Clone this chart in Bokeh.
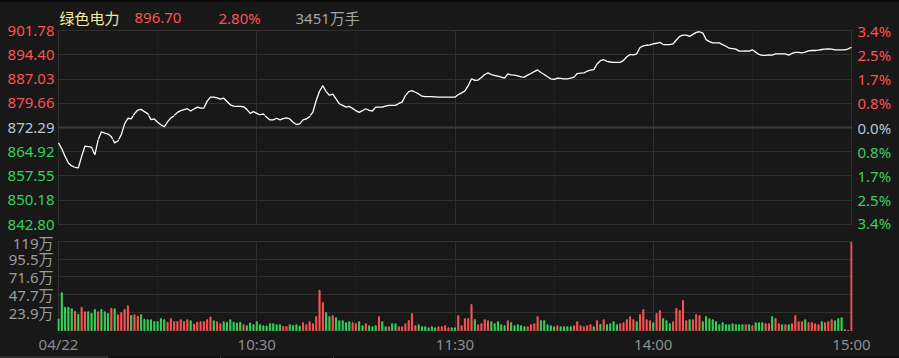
from bokeh.plotting import figure
from bokeh.models import Range1d, FixedTicker, Label, ColumnDataSource, LinearAxis, Spacer
from bokeh.layouts import column
from bokeh.embed import file_html
from bokeh.resources import INLINE

# ---------------- data ----------------
stock_name = "绿色电力"
last_price_text = "896.70"
change_text = "2.80%"
volume_text = "3451万手"

prev_close = 872.29
up_ticks = [901.78, 894.40, 887.03, 879.66]
up_tick_labels = ["901.78", "894.40", "887.03", "879.66"]
up_pct_labels = ["3.4%", "2.5%", "1.7%", "0.8%"]
flat_ticks = [872.29]
flat_tick_labels = ["872.29"]
flat_pct_labels = ["0.0%"]
down_ticks = [864.92, 857.55, 850.18, 842.80]
down_tick_labels = ["864.92", "857.55", "850.18", "842.80"]
down_pct_labels = ["0.8%", "1.7%", "2.5%", "3.4%"]

vol_ticks = [119, 95.5, 71.6, 47.7, 23.9]
vol_tick_labels = ["119万", "95.5万", "71.6万", "47.7万", "23.9万"]

time_ticks = [0, 60, 120, 180, 240]
time_labels = ["04/22", "10:30", "11:30", "14:00", "15:00"]
half_hour_ticks = [30, 90, 150, 210]

prices = [
    867.6, 865.8, 863.5, 861.5, 860.6, 860.2, 860.0, 863.5, 866.6, 866.5,
    866.3, 864.0, 868.5, 871.0, 870.6, 870.3, 869.5, 867.6, 868.2, 870.1,
    873.4, 875.1, 874.9, 876.5, 877.6, 877.8, 877.1, 876.5, 874.7, 874.9,
    873.9, 873.1, 872.5, 874.0, 875.2, 875.9, 876.9, 877.4, 877.7, 878.0,
    877.3, 877.9, 878.5, 878.2, 878.2, 880.3, 881.5, 881.5, 881.3, 880.9,
    881.2, 880.2, 879.2, 878.8, 878.7, 878.7, 878.6, 877.8, 876.6, 877.1,
    876.6, 876.1, 876.4, 875.4, 874.6, 874.6, 875.1, 874.6, 875.0, 875.2,
    874.9, 873.9, 873.2, 873.4, 874.6, 874.9, 875.6, 877.0, 880.5, 883.3,
    885.0, 883.2, 882.1, 882.4, 881.0, 879.5, 879.0, 878.5, 878.7, 878.1,
    877.4, 876.9, 877.4, 878.0, 877.5, 877.3, 878.5, 878.5, 878.5, 878.8,
    879.0, 879.0, 879.0, 879.6, 880.0, 882.0, 883.2, 883.5, 883.0, 882.5,
    881.8, 881.7, 881.7, 881.7, 881.6, 881.5, 881.5, 881.5, 881.5, 881.5,
    881.5, 882.3, 882.8, 883.4, 885.0, 887.1, 886.6, 886.7, 887.5, 888.4,
    888.9, 888.4, 888.1, 887.9, 887.6, 887.3, 888.6, 888.3, 888.2, 888.0,
    887.7, 887.6, 888.2, 888.7, 889.3, 889.8, 889.0, 888.4, 887.7, 887.1,
    886.9, 887.3, 887.2, 887.1, 887.1, 887.3, 887.6, 888.7, 888.8, 888.9,
    889.4, 889.7, 889.9, 891.6, 892.6, 892.9, 892.4, 892.2, 892.1, 892.1,
    892.1, 892.7, 893.8, 894.5, 894.4, 894.7, 896.6, 897.1, 897.3, 897.4,
    897.7, 897.9, 898.2, 897.5, 897.5, 897.5, 897.7, 898.9, 900.0, 900.4,
    900.4, 900.0, 900.6, 901.2, 901.4, 901.0, 899.0, 898.4, 898.0, 898.0,
    898.0, 897.5, 897.0, 896.4, 896.3, 896.1, 895.5, 895.5, 895.6, 895.5,
    895.9, 895.2, 894.5, 894.2, 894.2, 894.4, 894.3, 894.7, 894.7, 894.7,
    894.7, 894.3, 894.8, 895.1, 895.1, 895.0, 895.2, 895.6, 895.7, 895.7,
    895.8, 896.0, 896.1, 896.2, 896.1, 895.9, 895.9, 895.9, 895.9, 896.2,
    896.7,
]

# volume per minute, in 万
volumes = [
    15.3, 50.5, 31, 31, 29, 25.7, 21.6, 31, 25, 25,
    23, 28, 25, 28, 25, 22.5, 29.8, 29, 21, 24,
    28, 33, 20, 21, 19, 21, 15, 14.4, 14.4, 12,
    12, 15.8, 14.4, 11, 15.8, 12, 12, 14.4, 12, 14.4,
    13, 8.6, 11, 11.7, 11.7, 14.4, 18, 13, 11.7, 9,
    11.7, 11, 14.4, 11, 10, 11, 7.7, 6.3, 10, 7.7,
    11.7, 7.7, 6.3, 5.9, 9, 9, 7.7, 7.7, 5.4, 5.4,
    7.7, 6.8, 7.7, 6,
    10.4, 7.7, 11.7, 9, 18.5, 53.7, 37.4, 23.9, 18.5, 19.8,
    17, 13, 13, 10.4, 11.7, 10.4, 9, 11.7, 6.3, 9,
    6.3, 5, 6.3, 18.5, 11.7, 5, 5, 9, 9, 5,
    5, 9, 13.5, 22.5, 6.3, 7.7, 5, 5, 3.6, 5,
    3.6, 5, 5, 6.3, 3.6, 3.6, 3.6, 19.8, 6.3, 15.8,
    15.8, 34.7, 14.4, 7.7, 9, 14.4, 13, 11.7, 9, 11.7,
    7.7, 6.3, 13, 10.4, 6.3, 7.7, 6.3, 5, 5, 7.7,
    9, 18.5, 13, 13, 7.7, 6.3, 5, 6.3, 5, 5,
    5, 5, 6.3, 11.7, 6.3, 5, 6.3, 7.7, 5, 13,
    8,
    14.4, 7.7, 9, 11.7, 7.7, 9, 10.4, 14.4, 18.5, 14.4,
    11.7, 21.2, 28, 14.4, 13, 10.4, 22.5, 26.6, 15.8, 13,
    9, 11.7, 29.3, 26.6, 40, 13, 14.4, 14.4, 21.2, 19.8,
    11.7, 18.5, 15.8, 14.4, 11.7, 7.7, 10.4, 7.7, 7.7, 9,
    7.7, 7.7, 7.7, 7.7, 7.7, 6.3, 10.4, 10.4, 10.4, 9,
    9, 18.5, 15.8, 9, 7.7, 7.7, 7.7, 9, 19.8, 11.7,
    11.7, 14.4, 10.4, 10.4, 9, 7.7, 11.7, 10.4, 11.7, 14.4,
    13, 15.8, 17, 1.3,
    0, 118,
]

# r = up minute (red bar), g = down minute (green bar)
vol_direction = (
    "gggggrgrrg" "ggrgggrgrr" "rrgrrggggg" "gggrrrrrrr" "grrrrrrgrr"
    "ggggggrggg" "ggggggggrr" "gggg"
    "rrrrrrrggr" "gggggrrggr" "gggrggrggr" "rrrrrggggg" "grrrrggrrr"
    "rrgrrrrggg" "ggrgggggrr" "rrgggggrgg" "ggrrrrrrgr"
    "g"
    "rggggrrrrr" "grrrrgrrgg" "grrrrrgrrr" "gggggggggg" "gggrgrgggr"
    "rgrrgrgrrr" "rgrrrrgrrr" "gggr"
    "rr"
)

# ---------------- style / layout constants ----------------
FONT = "Noto Sans, Noto Sans CJK SC"
FS = "15px"
RED = "#ff5252"
GREEN = "#35d458"
MID = "#b8c6d8"
BG = "#181818"
GRID = "#2f2f2f"
AXIS_GRAY = "#9c9c9c"

W = 899
LB, RB = 57, 47                    # borders -> frame 795 px (1 px pad each side)
PLOT_H = 194                       # price box height in px
px_per_price = PLOT_H / (up_ticks[0] - down_ticks[-1])
px_per_min = 793 / 240
pad_x = 1 / px_per_min
x_range = Range1d(time_ticks[0] - pad_x, time_ticks[-1] + pad_x)

n = len(prices)
minutes = list(range(n))
price_src = ColumnDataSource(dict(x=minutes, y=prices))

# vertical split of the price box (so each tick-label group gets its own colour)
A_lo = up_ticks[0] - 85 / px_per_price
A_hi = up_ticks[0] + 28 / px_per_price
B_lo = A_lo - 24 / px_per_price
C_lo = down_ticks[-1] - 1 / px_per_price


def price_part(lo, hi, height, bottom_border, ticks, left_labels, right_labels, color, grid_w=1, grid_c=GRID,
               limit_top=False):
    f = figure(width=W, height=height, x_range=x_range, y_range=Range1d(lo, hi),
               output_backend="svg", toolbar_location=None,
               min_border_left=LB, min_border_right=RB, min_border_top=0, min_border_bottom=bottom_border,
               background_fill_color=BG, border_fill_color=BG, outline_line_color=None)
    f.xaxis.visible = False
    f.xgrid.ticker = FixedTicker(ticks=time_ticks, minor_ticks=half_hour_ticks)
    f.xgrid.grid_line_color = GRID
    f.xgrid.minor_grid_line_color = GRID
    f.xgrid.minor_grid_line_dash = "1 2"
    if limit_top:
        g = f.xgrid[0]
        if "cross_bounds" in g.properties():
            g.cross_bounds = (lo, up_ticks[0])
    f.ygrid.ticker = FixedTicker(ticks=ticks)
    f.ygrid.grid_line_color = grid_c
    f.ygrid.grid_line_width = grid_w

    la = f.yaxis[0]
    la.ticker = FixedTicker(ticks=ticks)
    la.major_label_overrides = dict(zip(ticks, left_labels))
    ra = LinearAxis(ticker=FixedTicker(ticks=ticks), major_label_overrides=dict(zip(ticks, right_labels)))
    f.add_layout(ra, "right")
    for ax, so in ((la, 3), (ra, 5)):
        ax.axis_line_color = None
        ax.major_tick_line_color = None
        ax.minor_tick_line_color = None
        ax.major_tick_out = 0
        ax.major_tick_in = 0
        ax.minor_tick_out = 0
        ax.major_label_standoff = so
        ax.major_label_text_font = FONT
        ax.major_label_text_font_size = FS
        ax.major_label_text_color = color
    f.line("x", "y", source=price_src, line_color="#ffffff", line_width=1.3)
    return f


pa = price_part(A_lo, A_hi, 113, 0, up_ticks, up_tick_labels, up_pct_labels, RED, limit_top=True)
pb = price_part(B_lo, A_lo, 24, 0, flat_ticks, flat_tick_labels, flat_pct_labels, MID, grid_w=2, grid_c="#3b3b3b")
pc = price_part(C_lo, B_lo, 93, 7, down_ticks, down_tick_labels, down_pct_labels, GREEN)

# header (inside the top part's frame, above the price box)
header_y = up_ticks[0] + 12.5 / px_per_price
header = [(stock_name, 1, "#f2eba2"), (last_price_text, 76, RED), (change_text, 160, RED), (volume_text, 237, "#a6a6a6")]
for txt, off, col in header:
    pa.add_layout(Label(x=time_ticks[0], y=header_y, x_offset=off, text=txt, text_align="left",
                        text_baseline="middle", text_color=col, text_font=FONT, text_font_size=FS))

# ---------------- volume panel ----------------
px_per_vol = 90 / vol_ticks[0]
pad_v = 1 / px_per_vol
bar_colors = [RED if d == "r" else GREEN for d in vol_direction]
vsrc = ColumnDataSource(dict(x=minutes, top=volumes, color=bar_colors))

v = figure(width=W, height=124, x_range=x_range, y_range=Range1d(0 - pad_v, vol_ticks[0] + pad_v),
           output_backend="svg", toolbar_location=None,
           min_border_left=LB, min_border_right=RB, min_border_top=8, min_border_bottom=24,
           background_fill_color=BG, border_fill_color=BG, outline_line_color=None)
v.vbar(x="x", top="top", bottom=0, width=0.32, color="color", source=vsrc)

v.xaxis.ticker = FixedTicker(ticks=time_ticks)
v.xaxis.major_label_overrides = dict(zip(time_ticks, time_labels))
v.yaxis.ticker = FixedTicker(ticks=vol_ticks)
v.yaxis.major_label_overrides = dict(zip(vol_ticks, vol_tick_labels))
for ax in (v.xaxis[0], v.yaxis[0]):
    ax.axis_line_color = None
    ax.major_tick_line_color = None
    ax.minor_tick_line_color = None
    ax.major_tick_out = 0
    ax.major_tick_in = 0
    ax.minor_tick_out = 0
    ax.major_label_text_font = FONT
    ax.major_label_text_font_size = FS
    ax.major_label_text_color = AXIS_GRAY
v.yaxis.major_label_standoff = 4
v.xaxis.major_label_standoff = 2
v.xaxis.major_label_text_color = "#8e8e8e"
v.xgrid.ticker = FixedTicker(ticks=time_ticks, minor_ticks=half_hour_ticks)
v.xgrid.grid_line_color = GRID
v.xgrid.minor_grid_line_color = GRID
v.xgrid.minor_grid_line_dash = "1 2"
v.ygrid.ticker = FixedTicker(ticks=[0] + vol_ticks)
v.ygrid.grid_line_color = GRID

top_strip = Spacer(width=W, height=2, styles={"background-color": "#0c0c0c"})
bottom_strip = Spacer(width=W, height=2, styles={
    "background": "linear-gradient(to right, #2c2c2c 0px, #2c2c2c 107px, #3a3a3a 107px, #3a3a3a 108px, "
                  "#101010 108px, #101010 220px, #3a3a3a 220px, #3a3a3a 221px, #101010 221px, "
                  "#101010 333px, #3a3a3a 333px, #3a3a3a 334px, #101010 334px)"})
layout = column(top_strip, pa, pb, pc, v, bottom_strip, spacing=0, styles={"background-color": BG})

open("out.html", "w").write(file_html(layout, INLINE))
